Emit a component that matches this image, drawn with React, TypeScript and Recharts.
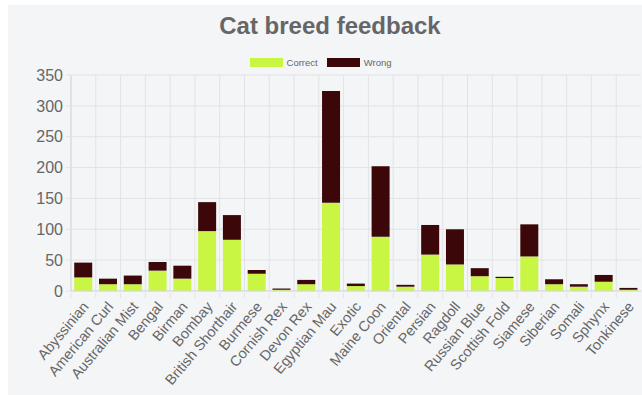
import React from "react";
import { BarChart, Bar, XAxis, YAxis, CartesianGrid } from "recharts";

const breeds = [
  "Abyssinian",
  "American Curl",
  "Australian Mist",
  "Bengal",
  "Birman",
  "Bombay",
  "British Shorthair",
  "Burmese",
  "Cornish Rex",
  "Devon Rex",
  "Egyptian Mau",
  "Exotic",
  "Maine Coon",
  "Oriental",
  "Persian",
  "Ragdoll",
  "Russian Blue",
  "Scottish Fold",
  "Siamese",
  "Siberian",
  "Somali",
  "Sphynx",
  "Tonkinese",
];

const correct = [22, 11, 11, 33, 20, 97, 83, 28, 2, 11, 143, 8, 88, 7, 59, 43, 24, 21, 56, 11, 7, 15, 2];
const wrong = [24, 9, 14, 14, 21, 47, 40, 6, 2, 7, 181, 4, 114, 3, 48, 57, 13, 2, 52, 8, 4, 11, 3];

const yTicks = [0, 50, 100, 150, 200, 250, 300, 350];

const W = 634;
const H = 390;
const Y_AXIS_W = 63;
const RIGHT = 1;
const STEP = (W - Y_AXIS_W - RIGHT) / breeds.length;

const GREEN = "#c9f543";
const MAROON = "#3b0709";
const TEXT = "#666";
const GRID = "#e2e3e6";

const data = breeds.map((name, i) => ({
  name,
  correct: correct[i],
  wrong: wrong[i],
}));

const legendItems = [
  { label: "Correct", color: GREEN },
  { label: "Wrong", color: MAROON },
];

function BreedTick(props: any) {
  const { x, y, payload } = props;
  const bx = x - STEP / 2;
  return (
    <g>
      <line x1={bx} y1={y} x2={bx} y2={y + 5} stroke={GRID} />
      <text
        x={0}
        y={0}
        transform={`translate(${x + 6},${y + 14}) rotate(-50)`}
        textAnchor="end"
        fill={TEXT}
        fontSize={14.5}
      >
        {payload.value}
      </text>
    </g>
  );
}

export default function App() {
  return (
    <div
      style={{
        position: "absolute",
        left: 8,
        top: 5,
        width: W,
        height: H,
        background: "#f4f5f7",
        fontFamily: "'Liberation Sans', Arial, Helvetica, sans-serif",
        overflow: "hidden",
      }}
    >
      <div
        style={{
          position: "absolute",
          top: 7,
          left: 5,
          width: W,
          textAlign: "center",
          fontSize: 24,
          fontWeight: "bold",
          color: TEXT,
        }}
      >
        Cat breed feedback
      </div>
      <div
        style={{
          position: "absolute",
          top: 52,
          left: 0,
          width: W,
          display: "flex",
          justifyContent: "center",
          alignItems: "center",
        }}
      >
        {legendItems.map((it) => (
          <div key={it.label} style={{ display: "flex", alignItems: "center", marginRight: 9 }}>
            <span style={{ width: 33, height: 9, background: it.color, display: "inline-block" }} />
            <span style={{ fontSize: 9.5, color: TEXT, marginLeft: 4 }}>{it.label}</span>
          </div>
        ))}
      </div>
      <BarChart
        width={W}
        height={H}
        data={data}
        margin={{ top: 70, right: RIGHT, bottom: 0, left: 0 }}
        barCategoryGap="13%"
      >
        <CartesianGrid
          stroke={GRID}
          verticalCoordinatesGenerator={({ offset }: any) =>
            breeds.map((_, i) => offset.left + (i * offset.width) / breeds.length)
          }
        />
        <XAxis
          dataKey="name"
          interval={0}
          height={104}
          tickSize={0}
          tickLine={false}
          axisLine={{ stroke: "#d6d7da" }}
          tick={<BreedTick />}
        />
        <YAxis
          width={Y_AXIS_W}
          domain={[0, 350]}
          ticks={yTicks}
          interval={0}
          tickSize={5}
          tickMargin={3}
          tickLine={{ stroke: GRID }}
          axisLine={{ stroke: "#d6d7da" }}
          tick={{ fill: TEXT, fontSize: 16 }}
        />
        <Bar dataKey="correct" name="Correct" stackId="a" fill={GREEN} isAnimationActive={false} />
        <Bar dataKey="wrong" name="Wrong" stackId="a" fill={MAROON} isAnimationActive={false} />
      </BarChart>
    </div>
  );
}
